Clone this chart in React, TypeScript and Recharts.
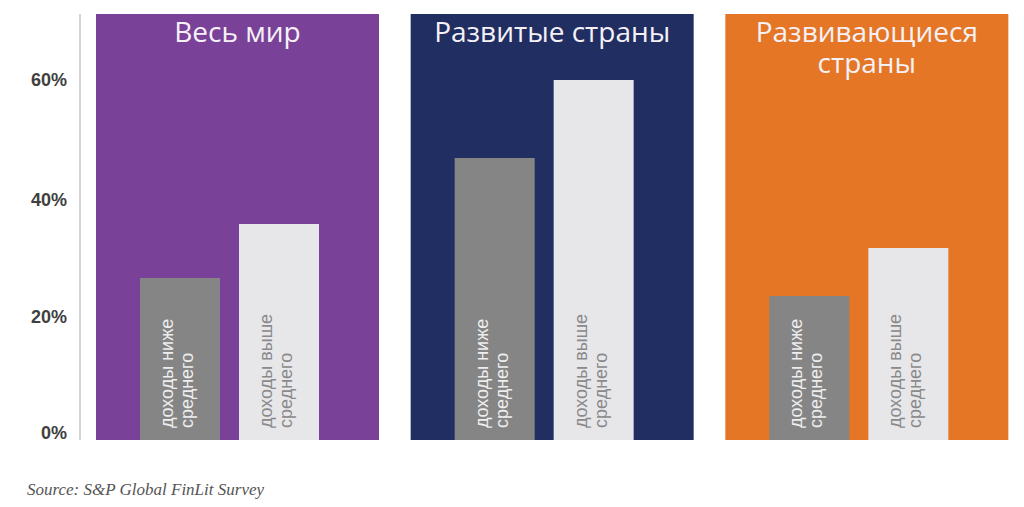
import { BarChart, Bar, XAxis, YAxis, Cell, LabelList } from 'recharts';

const regions = ['Весь мир', 'Развитые страны', 'Развивающиеся страны'];
const regionTitleLines = [['Весь мир'], ['Развитые страны'], ['Развивающиеся', 'страны']];
const regionColors = ['#7a4199', '#202e62', '#e47626'];
const belowAverage = [27, 47, 24];
const aboveAverage = [36, 60, 32];
const belowLabel = ['доходы ниже', 'среднего'];
const aboveLabel = ['доходы выше', 'среднего'];
const yTicks = [0, 20, 40, 60];
const yMax = 71;

const data = regions.map((region, i) => ({
  region,
  panel: yMax,
  below: belowAverage[i],
  above: aboveAverage[i],
}));

const renderTitle = (props: any) => {
  const { x, y, width, index } = props;
  const lines = regionTitleLines[index] || [];
  return (
    <g>
      {lines.map((line: string, i: number) => (
        <text
          key={i}
          x={x + width / 2}
          y={y + 28 + i * 31}
          textAnchor="middle"
          fill="#f6f1f6"
          fontSize={28}
          fontFamily="'Open Sans', sans-serif"
        >
          {line}
        </text>
      ))}
    </g>
  );
};

const makeBarLabel = (lines: string[], color: string) => (props: any) => {
  const { x, y, width, height } = props;
  const cx = x + width / 2 - 7;
  const bottom = y + height - 12;
  return (
    <text
      transform={`translate(${cx}, ${bottom}) rotate(-90)`}
      textAnchor="start"
      fill={color}
      fontSize={18}
      fontFamily="'Liberation Sans', Arial, sans-serif"
    >
      {lines.map((line, i) => (
        <tspan key={i} x={0} dy={i === 0 ? 0 : 20}>
          {line}
        </tspan>
      ))}
    </text>
  );
};

const renderYTick = (props: any) => {
  const { x, y, payload } = props;
  const shift = payload.value === 0 ? -7 : payload.value === 20 ? -3 : 0;
  return (
    <text
      x={x}
      y={y + shift}
      dy="0.355em"
      textAnchor="end"
      fill="#404040"
      fontSize={18}
      fontWeight={700}
      fontFamily="'Liberation Sans', Arial, sans-serif"
    >
      {`${payload.value}%`}
    </text>
  );
};

export default function App() {
  return (
    <div style={{ position: 'absolute', left: 0, top: 0, width: 1024, height: 507, background: '#fff' }}>
      <BarChart
        width={1024}
        height={445}
        data={data}
        margin={{ top: 14, right: 0, left: 0, bottom: 5 }}
        barGap={19}
      >
        <XAxis xAxisId="panel" dataKey="region" type="category" hide />
        <XAxis xAxisId="bars" dataKey="region" type="category" hide padding={{ left: -8, right: 8 }} />
        <YAxis
          domain={[0, yMax]}
          ticks={yTicks}
          interval={0}
          width={80}
          axisLine={{ stroke: '#aaaaaa' }}
          tickLine={false}
          tickSize={0}
          tickMargin={13}
          tick={renderYTick}
        />
        <Bar xAxisId="panel" dataKey="panel" barSize={283} isAnimationActive={false}>
          {data.map((d, i) => (
            <Cell key={d.region} fill={regionColors[i]} />
          ))}
          <LabelList dataKey="region" content={renderTitle} />
        </Bar>
        <Bar xAxisId="bars" dataKey="below" barSize={80} fill="#858585" isAnimationActive={false}>
          <LabelList dataKey="below" content={makeBarLabel(belowLabel, '#eeeeee')} />
        </Bar>
        <Bar xAxisId="bars" dataKey="above" barSize={80} fill="#e7e7ea" isAnimationActive={false}>
          <LabelList dataKey="above" content={makeBarLabel(aboveLabel, '#8a8a8a')} />
        </Bar>
      </BarChart>
      <div
        style={{
          position: 'absolute',
          left: 27,
          top: 480,
          fontFamily: "'Liberation Serif', serif",
          fontStyle: 'italic',
          fontSize: 17,
          lineHeight: '20px',
          color: '#555555',
        }}
      >
        Source: S&amp;P Global FinLit Survey
      </div>
    </div>
  );
}
